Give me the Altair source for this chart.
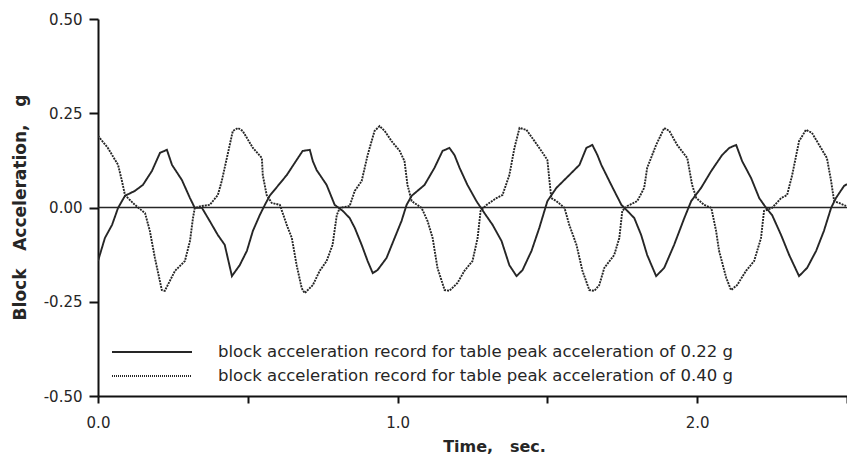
import altair as alt
import pandas as pd

S1 = "block acceleration record for table peak acceleration of 0.22 g"
S2 = "block acceleration record for table peak acceleration of 0.40 g"

t_022 = [0.000, 0.023, 0.047, 0.067, 0.090, 0.123, 0.150, 0.180, 0.207, 0.230, 0.247, 0.280, 0.307, 0.323, 0.347,
         0.373, 0.400, 0.423, 0.447, 0.473, 0.497, 0.517, 0.540, 0.557, 0.573, 0.600, 0.630, 0.663, 0.683, 0.707,
         0.717, 0.730, 0.763, 0.790, 0.817, 0.840, 0.857, 0.880, 0.900, 0.917, 0.933, 0.963, 0.990, 1.013, 1.030,
         1.047, 1.090, 1.123, 1.150, 1.173, 1.190, 1.207, 1.233, 1.263, 1.290, 1.317, 1.347, 1.373, 1.397, 1.417,
         1.447, 1.473, 1.500, 1.530, 1.573, 1.607, 1.630, 1.650, 1.667, 1.680, 1.713, 1.747, 1.767, 1.790, 1.813,
         1.833, 1.863, 1.890, 1.923, 1.957, 1.980, 2.013, 2.047, 2.083, 2.107, 2.130, 2.150, 2.180, 2.207, 2.230,
         2.250, 2.280, 2.307, 2.340, 2.367, 2.397, 2.423, 2.447, 2.463, 2.490, 2.500]
g_022 = [-0.142, -0.081, -0.046, -0.001, 0.031, 0.044, 0.060, 0.097, 0.145, 0.153, 0.113, 0.073, 0.025, -0.001, -0.001,
         -0.036, -0.073, -0.099, -0.182, -0.153, -0.115, -0.062, -0.020, 0.007, 0.031, 0.057, 0.086, 0.126, 0.150, 0.153,
         0.123, 0.099, 0.060, 0.007, -0.009, -0.028, -0.054, -0.099, -0.142, -0.174, -0.166, -0.134, -0.081, -0.036, 0.007,
         0.031, 0.060, 0.105, 0.150, 0.158, 0.139, 0.105, 0.060, 0.017, -0.015, -0.046, -0.089, -0.153, -0.182, -0.166,
         -0.115, -0.054, 0.017, 0.052, 0.086, 0.113, 0.158, 0.166, 0.139, 0.113, 0.060, 0.007, -0.009, -0.028, -0.073,
         -0.126, -0.182, -0.160, -0.099, -0.028, 0.017, 0.052, 0.097, 0.139, 0.158, 0.166, 0.123, 0.078, 0.025, -0.001,
         -0.020, -0.073, -0.126, -0.182, -0.160, -0.115, -0.062, -0.001, 0.025, 0.057, 0.062]

t_040 = [0.000, 0.033, 0.067, 0.080, 0.090, 0.123, 0.157, 0.173, 0.190, 0.213, 0.223, 0.257, 0.290, 0.307, 0.317,
         0.323, 0.347, 0.373, 0.400, 0.413, 0.430, 0.450, 0.467, 0.483, 0.517, 0.547, 0.550, 0.563, 0.580, 0.607,
         0.630, 0.647, 0.663, 0.680, 0.690, 0.717, 0.740, 0.763, 0.783, 0.797, 0.807, 0.840, 0.857, 0.880, 0.900,
         0.923, 0.940, 0.957, 0.980, 1.007, 1.023, 1.033, 1.047, 1.080, 1.100, 1.117, 1.133, 1.157, 1.173, 1.200,
         1.223, 1.250, 1.267, 1.277, 1.297, 1.330, 1.350, 1.373, 1.390, 1.407, 1.430, 1.457, 1.480, 1.500, 1.507,
         1.513, 1.530, 1.557, 1.573, 1.597, 1.617, 1.640, 1.657, 1.673, 1.690, 1.723, 1.740, 1.750, 1.767, 1.800,
         1.823, 1.833, 1.863, 1.890, 1.907, 1.933, 1.967, 1.983, 1.997, 2.023, 2.047, 2.063, 2.073, 2.097, 2.113,
         2.133, 2.163, 2.190, 2.213, 2.223, 2.250, 2.280, 2.300, 2.317, 2.340, 2.363, 2.383, 2.413, 2.433, 2.447,
         2.457, 2.473, 2.497]
g_040 = [0.190, 0.158, 0.113, 0.070, 0.033, 0.007, -0.015, -0.062, -0.134, -0.219, -0.221, -0.168, -0.142, -0.089, -0.028,
         -0.001, 0.004, 0.007, 0.033, 0.070, 0.131, 0.203, 0.211, 0.203, 0.158, 0.131, 0.086, 0.033, 0.012, 0.007,
         -0.046, -0.081, -0.153, -0.214, -0.227, -0.206, -0.168, -0.142, -0.099, -0.020, -0.001, 0.004, 0.044, 0.070, 0.139,
         0.203, 0.216, 0.203, 0.176, 0.150, 0.123, 0.060, 0.017, -0.001, -0.036, -0.081, -0.160, -0.219, -0.221, -0.200,
         -0.168, -0.142, -0.081, -0.009, 0.007, 0.025, 0.033, 0.086, 0.158, 0.211, 0.206, 0.176, 0.150, 0.126, 0.070,
         0.025, 0.017, -0.001, -0.046, -0.099, -0.168, -0.219, -0.221, -0.206, -0.160, -0.126, -0.081, -0.009, 0.004, 0.017,
         0.052, 0.105, 0.166, 0.211, 0.203, 0.166, 0.131, 0.060, 0.025, 0.007, -0.001, -0.062, -0.115, -0.187, -0.219,
         -0.206, -0.168, -0.142, -0.081, -0.009, -0.001, 0.025, 0.033, 0.086, 0.176, 0.206, 0.198, 0.158, 0.131, 0.070,
         0.017, 0.012, 0.004]

x_ticks = [0.0, 0.5, 1.0, 1.5, 2.0, 2.5]
y_ticks = [-0.50, -0.25, 0.00, 0.25, 0.50]
zero_line = [0.0]

df = pd.concat([
    pd.DataFrame({"t": t_022, "g": g_022, "series": S1, "order": range(len(t_022))}),
    pd.DataFrame({"t": t_040, "g": g_040, "series": S2, "order": range(len(t_040))}),
])

FONT = "DejaVu Sans"
INK = "#262626"
NB = "\u00a0"

x_enc = alt.X("t:Q", scale=alt.Scale(domain=[0, 2.5], nice=False),
              axis=alt.Axis(values=x_ticks, title=f"Time,{NB}{NB} sec.",
                            labelExpr="datum.value % 1 === 0 ? format(datum.value, '.1f') : ''",
                            labelFlush=False, labelOverlap=False,
                            tickSize=7, labelPadding=12, titlePadding=8, labelFontSize=15,
                            titleFontSize=16, titleFontWeight="bold", titleX=396))
y_enc = alt.Y("g:Q", scale=alt.Scale(domain=[-0.5, 0.5], nice=False),
              axis=alt.Axis(values=y_ticks, title=f"Block{NB}{NB} Acceleration,{NB}{NB} g",
                            labelExpr="replace(format(datum.value, '.2f'), '\u2212', '-')",
                            labelFlush=False,
                            tickSize=9, labelPadding=7, titlePadding=14, labelFontSize=15,
                            titleFontSize=17, titleFontWeight="bold", titleY=188))

lines = alt.Chart(df).mark_line(color=INK, strokeWidth=1.9, clip=True).encode(
    x=x_enc,
    y=y_enc,
    order="order:Q",
    strokeDash=alt.StrokeDash("series:N",
                              scale=alt.Scale(domain=[S1, S2], range=[[1, 0], [2, 1]]),
                              legend=None),
    detail="series:N",
)

zero = alt.Chart(pd.DataFrame({"z": zero_line})).mark_rule(color=INK, strokeWidth=1.5).encode(y="z:Q")

legend_labels = [S1, S2]
legend_layers = []
for i, (lab, dash) in enumerate(zip(legend_labels, [[1, 0], [1, 1]])):
    src = pd.DataFrame({"label": [lab]})
    yy = 333 + 24 * i
    legend_layers.append(
        alt.Chart(src).mark_rule(color=INK, strokeWidth=2, strokeDash=dash).encode(
            x=alt.value(14), x2=alt.value(94), y=alt.value(yy)))
    legend_layers.append(
        alt.Chart(src).mark_text(align="left", baseline="middle", font=FONT, fontSize=16.5,
                                 color=INK).encode(
            x=alt.value(120), y=alt.value(yy), text="label:N"))

chart = alt.layer(zero, lines, *legend_layers).properties(
    width=749, height=377,
    padding={"left": 98, "right": 0, "top": 19, "bottom": 61},
    autosize=alt.AutoSizeParams(type="none"),
    background="white",
).configure_view(stroke=None).configure_axis(
    grid=False, domainColor="#111", domainWidth=2, tickColor="#111", tickWidth=2,
    labelFont=FONT, titleFont=FONT, labelColor=INK, titleColor=INK,
)

chart.save("out.html", embed_options={"renderer": "svg", "actions": False})
